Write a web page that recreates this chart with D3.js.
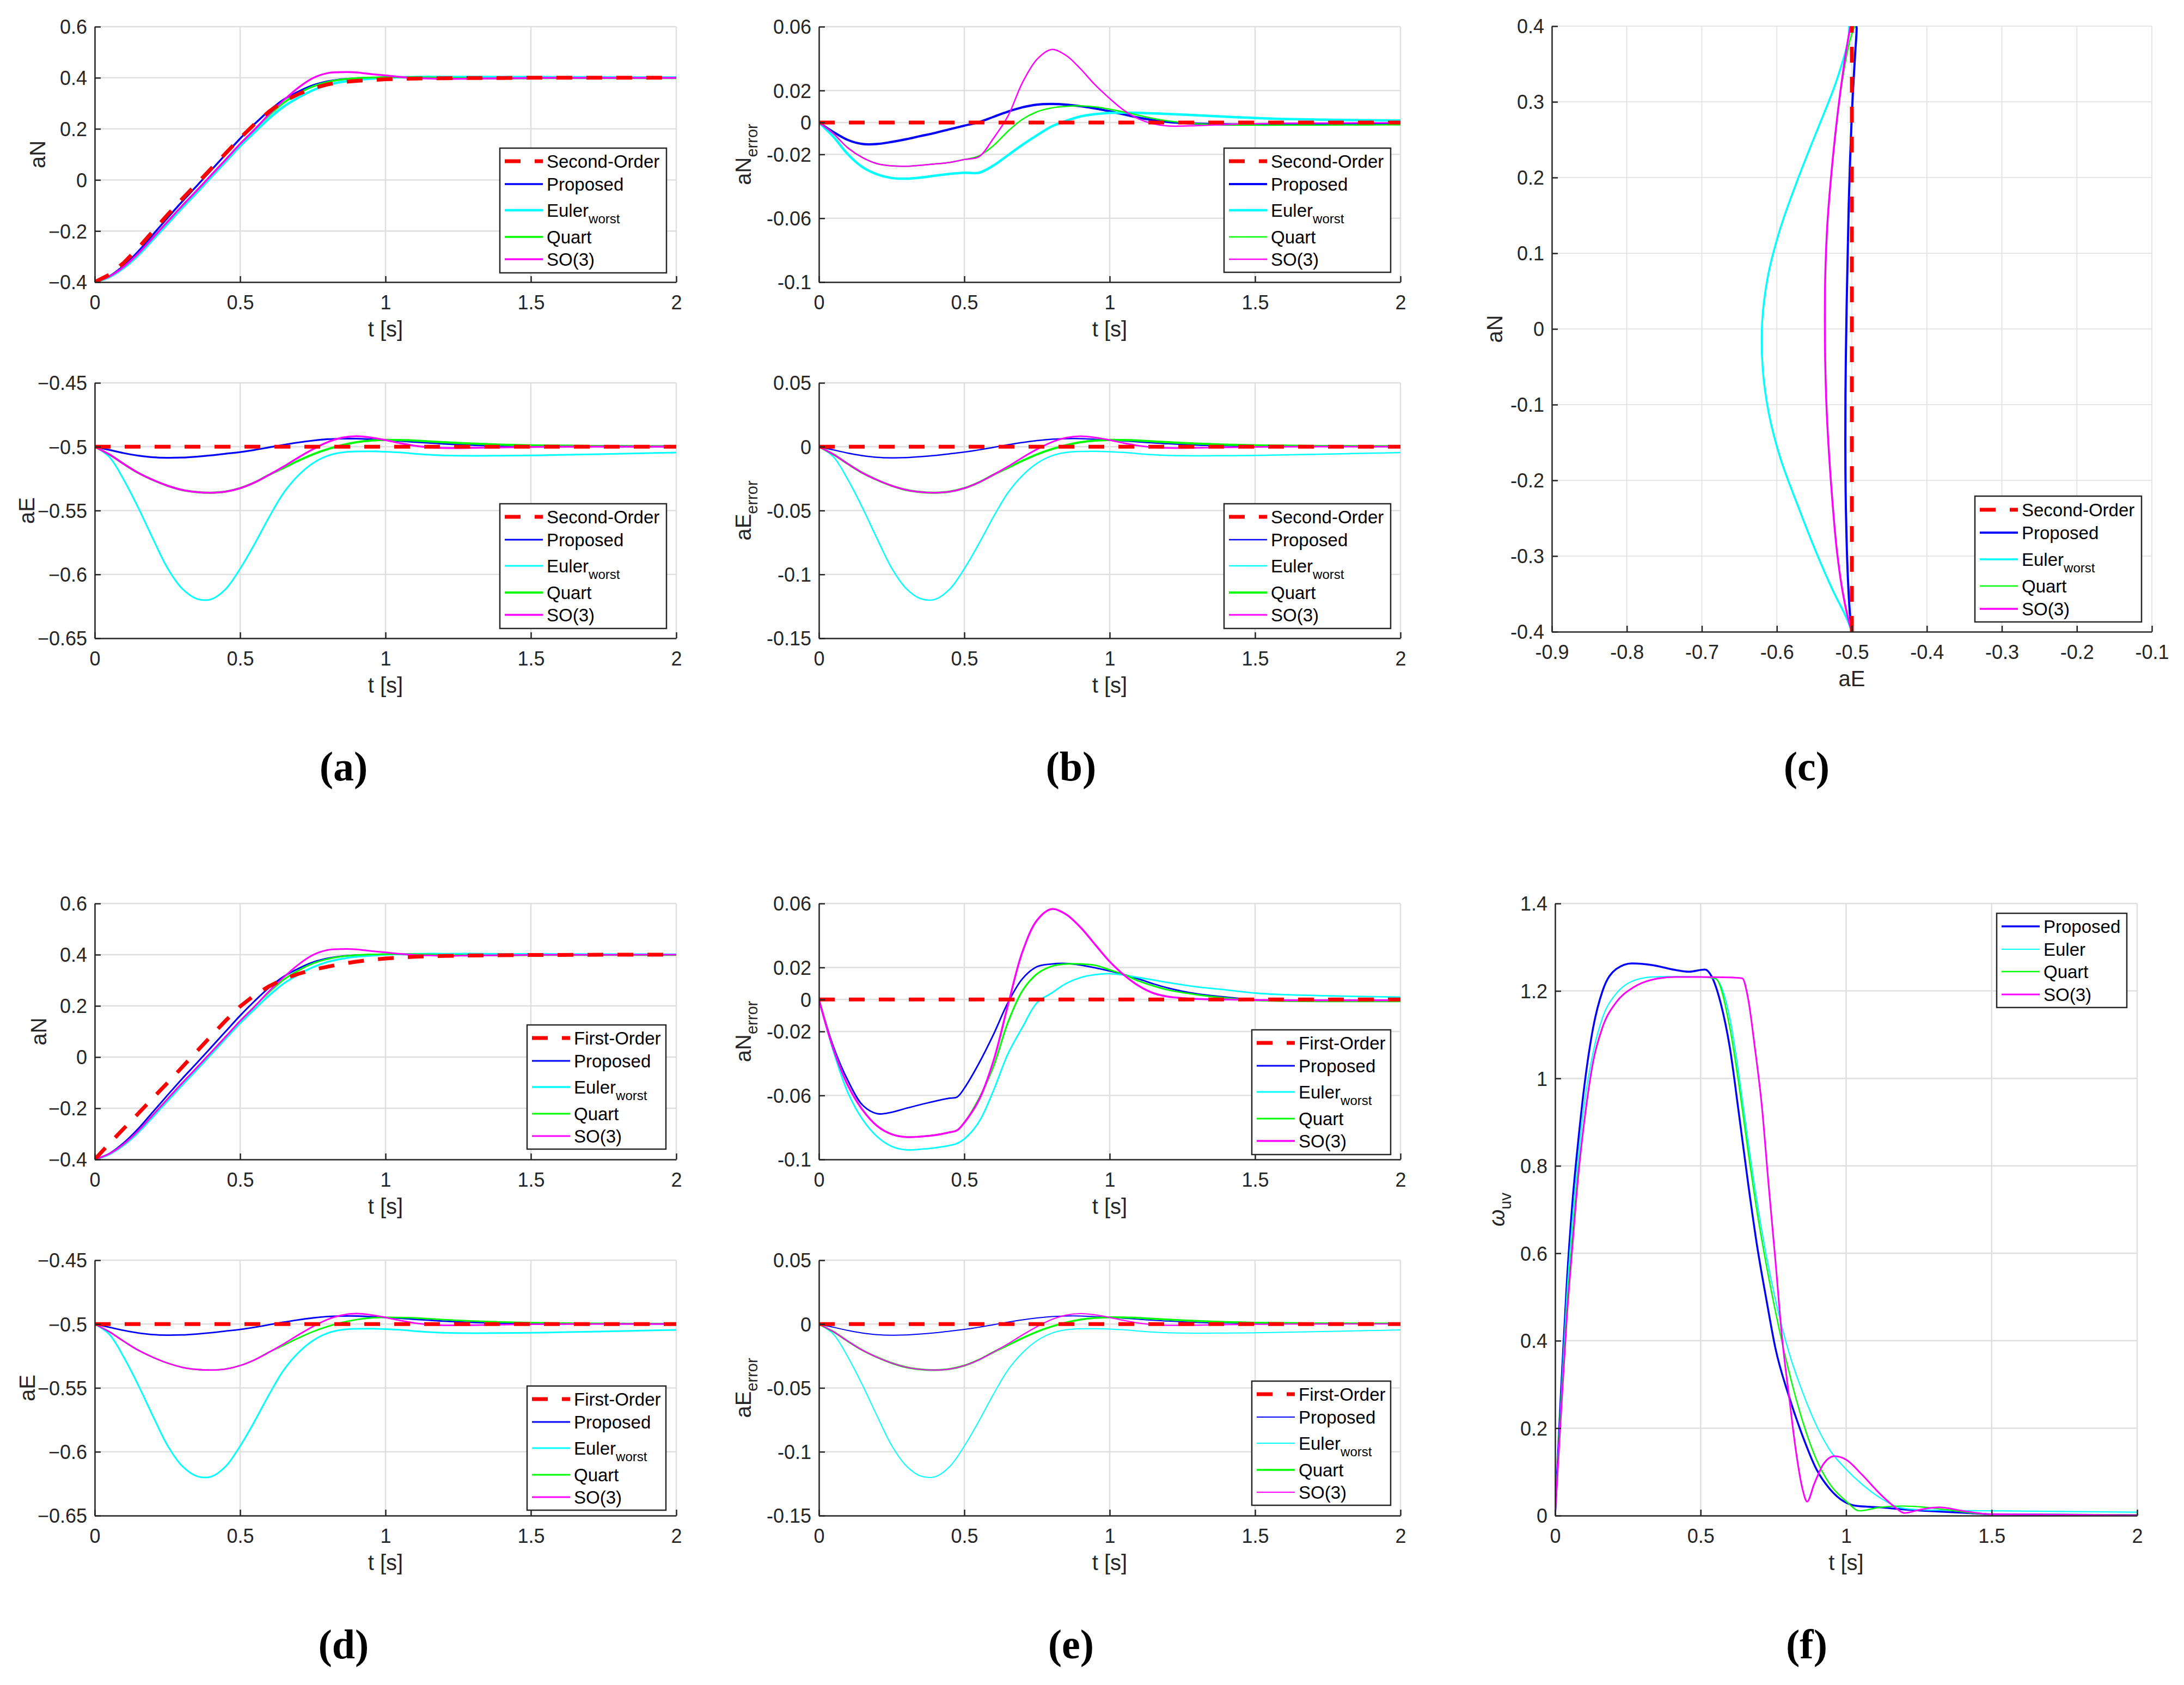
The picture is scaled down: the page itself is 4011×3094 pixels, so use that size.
<!DOCTYPE html>
<html><head><meta charset="utf-8">
<script src="https://cdn.jsdelivr.net/npm/d3@7"></script>
<style>html,body{margin:0;padding:0;background:#fff;} svg{display:block;}</style>
</head><body>
<svg id="chart" width="4011" height="3094"></svg>
<script>
// ---------------- DATA ----------------
const T = [0,0.05,0.1,0.15,0.2,0.25,0.3,0.35,0.4,0.45,0.5,0.55,0.6,0.65,0.7,0.75,0.8,0.85,0.9,0.95,1.0,1.05,1.1,1.15,1.2,1.3,1.4,1.5,1.6,1.8,2.0];
const T_ENDS = [0, 2];

// aN (panels a, c, d)
const aN_second   = [-0.4,-0.371,-0.324,-0.266,-0.201,-0.137,-0.075,-0.016,0.044,0.104,0.164,0.219,0.268,0.308,0.336,0.359,0.374,0.383,0.388,0.391,0.394,0.396,0.397,0.398,0.398,0.399,0.399,0.4,0.4,0.4,0.4];
const aN_first    = [-0.4,-0.338,-0.279,-0.22,-0.16,-0.101,-0.04,0.021,0.082,0.142,0.198,0.242,0.277,0.305,0.325,0.341,0.353,0.364,0.373,0.38,0.385,0.389,0.392,0.394,0.395,0.397,0.398,0.399,0.399,0.4,0.4];
const aN_proposed = [-0.4,-0.377,-0.335,-0.2795,-0.2145,-0.1492,-0.0855,-0.0245,0.0375,0.0998,0.162,0.2192,0.2715,0.3148,0.3455,0.3702,0.3856,0.3942,0.3982,0.3998,0.401,0.401,0.400,0.3995,0.3983,0.3982,0.3978,0.3987,0.3988,0.399,0.3992];
const aN_euler    = [-0.4,-0.38,-0.344,-0.294,-0.2335,-0.1718,-0.1102,-0.0505,0.0107,0.0718,0.1325,0.1875,0.241,0.2875,0.322,0.351,0.3715,0.384,0.3918,0.3962,0.4,0.4022,0.403,0.4037,0.4033,0.4035,0.4026,0.4028,0.4022,0.4016,0.4012];
const aN_quart    = [-0.4,-0.378,-0.34,-0.288,-0.2268,-0.1642,-0.1024,-0.0428,0.018,0.079,0.1408,0.198,0.2535,0.3025,0.338,0.3657,0.3831,0.3931,0.3984,0.4008,0.4023,0.4025,0.4015,0.4005,0.399,0.3982,0.3975,0.3983,0.3983,0.3984,0.3985];
const aN_so3      = [-0.4,-0.378,-0.34,-0.288,-0.2268,-0.1642,-0.1024,-0.0428,0.018,0.079,0.1408,0.1975,0.258,0.312,0.361,0.3986,0.418,0.422,0.421,0.4145,0.409,0.4035,0.3992,0.3972,0.3958,0.397,0.3978,0.3992,0.3995,0.3997,0.3998];

// aE (panels a, c, d)
const aE_ref      = [-0.5, -0.5];
const aE_proposed = [-0.5,-0.5025,-0.505,-0.507,-0.5083,-0.5087,-0.5085,-0.5078,-0.5068,-0.5055,-0.5042,-0.5025,-0.5005,-0.4985,-0.4967,-0.4952,-0.4941,-0.4937,-0.4937,-0.4942,-0.4948,-0.4955,-0.4963,-0.497,-0.4977,-0.4987,-0.4992,-0.4995,-0.4997,-0.4998,-0.4999];
const aE_euler    = [-0.5,-0.508,-0.526,-0.548,-0.572,-0.595,-0.611,-0.619,-0.6195,-0.6115,-0.5955,-0.576,-0.555,-0.536,-0.5225,-0.513,-0.5072,-0.5045,-0.5037,-0.5036,-0.5039,-0.5045,-0.5055,-0.5063,-0.5068,-0.5071,-0.507,-0.5068,-0.5064,-0.5055,-0.5046];
const aE_quart    = [-0.5,-0.506,-0.5135,-0.5205,-0.526,-0.5305,-0.5338,-0.5355,-0.536,-0.5352,-0.5325,-0.528,-0.522,-0.5165,-0.511,-0.506,-0.502,-0.4988,-0.4965,-0.4952,-0.4947,-0.4948,-0.4952,-0.4958,-0.4965,-0.4976,-0.4984,-0.4989,-0.4992,-0.4995,-0.4996];
const aE_so3      = [-0.5,-0.506,-0.5135,-0.5205,-0.526,-0.5305,-0.5338,-0.5355,-0.536,-0.5352,-0.5325,-0.528,-0.522,-0.5155,-0.5085,-0.502,-0.4965,-0.493,-0.4918,-0.4928,-0.4948,-0.4972,-0.4992,-0.5004,-0.501,-0.5009,-0.5005,-0.5002,-0.5,-0.4999,-0.4999];

// panel c reference line
const c_refE = [-0.5, -0.5];
const c_refN = [-0.4, 0.4];

// aN error vs second order (panel b top)
const err_ref       = [0, 0];
const eN2_proposed  = [0,-0.006,-0.011,-0.0135,-0.0135,-0.0122,-0.0105,-0.0085,-0.0065,-0.0042,-0.002,0.0002,0.0035,0.0068,0.0095,0.0112,0.0116,0.0112,0.0102,0.0088,0.007,0.005,0.003,0.0015,0.0003,-0.0008,-0.0012,-0.0013,-0.0012,-0.001,-0.0008];
const eN2_euler     = [0,-0.009,-0.02,-0.028,-0.0325,-0.0348,-0.0352,-0.0345,-0.0333,-0.0322,-0.0315,-0.0315,-0.027,-0.0205,-0.014,-0.008,-0.0025,0.001,0.0038,0.0052,0.006,0.0062,0.006,0.0057,0.0053,0.0045,0.0036,0.0028,0.0022,0.0016,0.0012];
const eN2_quart     = [0,-0.007,-0.016,-0.022,-0.0258,-0.0272,-0.0274,-0.0268,-0.026,-0.025,-0.0232,-0.021,-0.0145,-0.0055,0.002,0.0067,0.0091,0.0101,0.0104,0.0098,0.0083,0.0065,0.0045,0.0025,0.001,-0.0008,-0.0015,-0.0017,-0.0017,-0.0016,-0.0015];
const eN2_so3       = [0,-0.007,-0.016,-0.022,-0.0258,-0.0272,-0.0274,-0.0268,-0.026,-0.025,-0.0232,-0.0215,-0.010,0.004,0.025,0.0396,0.0457,0.042,0.0335,0.0235,0.015,0.0075,0.0022,-0.0008,-0.0022,-0.002,-0.0012,-0.0008,-0.0005,-0.0003,-0.0002];

// aE error (panels b bottom, e bottom)
const eE_proposed = [0,-0.0025,-0.005,-0.007,-0.0083,-0.0087,-0.0085,-0.0078,-0.0068,-0.0055,-0.0042,-0.0025,-0.0005,0.0015,0.0033,0.0048,0.0059,0.0063,0.0063,0.0058,0.0052,0.0045,0.0037,0.003,0.0023,0.0013,0.0008,0.0005,0.0003,0.0002,0.0001];
const eE_euler    = [0,-0.008,-0.026,-0.048,-0.072,-0.095,-0.111,-0.119,-0.1195,-0.1115,-0.0955,-0.076,-0.055,-0.036,-0.0225,-0.013,-0.0072,-0.0045,-0.0037,-0.0036,-0.0039,-0.0045,-0.0055,-0.0063,-0.0068,-0.0071,-0.007,-0.0068,-0.0064,-0.0055,-0.0046];
const eE_quart    = [0,-0.006,-0.0135,-0.0205,-0.026,-0.0305,-0.0338,-0.0355,-0.036,-0.0352,-0.0325,-0.028,-0.022,-0.0165,-0.011,-0.006,-0.002,0.0012,0.0035,0.0048,0.0053,0.0052,0.0048,0.0042,0.0035,0.0024,0.0016,0.0011,0.0008,0.0005,0.0004];
const eE_so3      = [0,-0.006,-0.0135,-0.0205,-0.026,-0.0305,-0.0338,-0.0355,-0.036,-0.0352,-0.0325,-0.028,-0.022,-0.0155,-0.0085,-0.002,0.0035,0.007,0.0082,0.0072,0.0052,0.0028,0.0008,-0.0004,-0.001,-0.0009,-0.0005,-0.0002,0,0.0001,0.0001];

// aN error vs first order (panel e top)
const TE = [0,0.05,0.1,0.15,0.2,0.25,0.3,0.35,0.4,0.45,0.475,0.5,0.55,0.6,0.65,0.7,0.75,0.8,0.85,0.9,0.95,1.0,1.05,1.1,1.15,1.2,1.3,1.4,1.5,1.6,1.8,2.0];
const eN1_proposed = [0,-0.0295,-0.0508,-0.066,-0.0714,-0.0705,-0.068,-0.0657,-0.0635,-0.0617,-0.061,-0.0555,-0.0400,-0.022,-0.002,0.013,0.0205,0.0222,0.0225,0.0215,0.0198,0.0178,0.0155,0.0128,0.0098,0.0072,0.0035,0.0015,-0.0003,-0.0007,-0.0008,-0.0008];
const eN1_euler    = [0,-0.0325,-0.0584,-0.075,-0.0857,-0.0918,-0.094,-0.0936,-0.0927,-0.0912,-0.09,-0.0872,-0.0766,-0.057,-0.034,-0.0173,-0.002,0.004,0.010,0.0137,0.0155,0.0161,0.0152,0.0137,0.0122,0.0106,0.0079,0.006,0.004,0.003,0.0021,0.0015];
const eN1_quart    = [0,-0.031,-0.0538,-0.069,-0.079,-0.0842,-0.086,-0.0857,-0.0848,-0.083,-0.0818,-0.077,-0.062,-0.042,-0.0143,0.0055,0.016,0.0207,0.0222,0.0222,0.0214,0.0185,0.0155,0.0115,0.0085,0.006,0.003,0.0009,-0.0006,-0.001,-0.0012,-0.0012];
const eN1_so3      = [0,-0.031,-0.0538,-0.069,-0.079,-0.0842,-0.086,-0.0857,-0.0848,-0.083,-0.0818,-0.077,-0.063,-0.0386,-0.0036,0.0298,0.0495,0.0565,0.0532,0.045,0.0343,0.0237,0.0152,0.0085,0.004,0.0018,0.0003,0,-0.0003,-0.0005,-0.0005,-0.0005];

// omega_uv (panel f)
const tf_proposed = [0,0.02,0.04,0.06,0.08,0.1,0.131,0.163,0.21,0.264,0.335,0.413,0.46,0.515,0.538,0.569,0.6,0.632,0.663,0.694,0.726,0.757,0.804,0.85,0.898,0.944,0.991,1.038,1.116,1.195,1.273,1.43,1.5,2.0];
const w_proposed  = [0,0.28,0.53,0.72,0.86,0.98,1.117,1.2,1.25,1.263,1.259,1.248,1.244,1.249,1.233,1.172,1.072,0.917,0.761,0.617,0.494,0.383,0.272,0.183,0.106,0.061,0.033,0.022,0.019,0.0144,0.011,0.0056,0.003,0.001];
const tf_euler    = [0,0.02,0.04,0.06,0.08,0.1,0.131,0.163,0.21,0.264,0.335,0.413,0.5,0.55,0.6,0.632,0.663,0.694,0.726,0.757,0.804,0.85,0.898,0.944,1.0,1.054,1.116,1.195,1.273,1.5,2.0];
const w_euler     = [0,0.26,0.5,0.68,0.82,0.94,1.061,1.139,1.194,1.222,1.232,1.233,1.232,1.228,1.139,1.006,0.856,0.717,0.594,0.494,0.372,0.283,0.206,0.15,0.106,0.072,0.041,0.017,0.013,0.011,0.008];
const tf_quart    = [0,0.02,0.04,0.06,0.08,0.1,0.131,0.163,0.21,0.264,0.335,0.413,0.5,0.55,0.6,0.632,0.663,0.694,0.726,0.757,0.804,0.85,0.898,0.944,1.0,1.046,1.116,1.195,1.273,1.35,1.5,2.0];
const w_quart     = [0,0.25,0.47,0.64,0.79,0.9,1.039,1.117,1.174,1.206,1.226,1.232,1.232,1.229,1.117,0.983,0.833,0.694,0.572,0.467,0.328,0.217,0.128,0.072,0.033,0.011,0.019,0.022,0.019,0.013,0.003,0.002];
const tf_so3      = [0,0.02,0.04,0.06,0.08,0.1,0.131,0.163,0.21,0.264,0.335,0.413,0.5,0.6,0.643,0.663,0.686,0.71,0.733,0.757,0.78,0.804,0.827,0.85,0.866,0.89,0.921,0.96,1.0,1.054,1.116,1.163,1.2,1.257,1.32,1.4,1.5,2.0];
const w_so3       = [0,0.23,0.45,0.62,0.78,0.9,1.039,1.117,1.174,1.206,1.226,1.232,1.232,1.231,1.229,1.183,1.072,0.939,0.761,0.583,0.406,0.272,0.15,0.061,0.032,0.072,0.117,0.136,0.128,0.094,0.05,0.022,0.006,0.014,0.019,0.011,0.003,0.001];

// ticks
const tTicks    = [0, 0.5, 1, 1.5, 2];
const aNTicks   = [-0.4, -0.2, 0, 0.2, 0.4, 0.6];
const aETicks   = [-0.65, -0.6, -0.55, -0.5, -0.45];
const eNTicks   = [-0.1, -0.06, -0.02, 0, 0.02, 0.06];
const eETicks   = [-0.15, -0.1, -0.05, 0, 0.05];
const cXTicks   = [-0.9, -0.8, -0.7, -0.6, -0.5, -0.4, -0.3, -0.2, -0.1];
const cYTicks   = [-0.4, -0.3, -0.2, -0.1, 0, 0.1, 0.2, 0.3, 0.4];
const wTicks    = [0, 0.2, 0.4, 0.6, 0.8, 1, 1.2, 1.4];

// ---------------- DRAWING ----------------
const svg = d3.select('#chart');
svg.append('rect').attr('width',4011).attr('height',3094).attr('fill','#fff');
const FONT = "'Liberation Sans', Arial, Helvetica, sans-serif";
const AXC = '#262626';
const RED = '#ff0000', BLUE = '#0000ff', CYAN = '#00ffff', GREEN = '#00ff00', MAG = '#ff00ff';
const fmtU = d3.format('~g');   // uses true minus sign
const fmtH = d3.formatLocale({decimal:'.', thousands:',', grouping:[3], currency:['',''], minus:'-'}).format('~g');
const DASH = '29,26';
const defs = svg.append('defs');
let clipN = 0;

function panel(cfg){
  const g = svg.append('g');
  const x = d3.scaleLinear().domain(cfg.xd).range([cfg.L, cfg.R]);
  const y = d3.scaleLinear().domain(cfg.yd).range([cfg.B, cfg.T]);
  const gw = cfg.gw || 2.5;
  // grid
  g.append('g').selectAll('line').data(cfg.xt).join('line')
    .attr('x1', d => x(d)).attr('x2', d => x(d)).attr('y1', cfg.T).attr('y2', cfg.B)
    .attr('stroke', '#dfdfdf').attr('stroke-width', gw);
  g.append('g').selectAll('line').data(cfg.yt).join('line')
    .attr('y1', d => y(d)).attr('y2', d => y(d)).attr('x1', cfg.L).attr('x2', cfg.R)
    .attr('stroke', '#dfdfdf').attr('stroke-width', gw);
  // series
  const id = 'clip' + (clipN++);
  defs.append('clipPath').attr('id', id).append('rect')
    .attr('x', cfg.L).attr('y', cfg.T).attr('width', cfg.R - cfg.L).attr('height', cfg.B - cfg.T);
  const lg = g.append('g').attr('clip-path', `url(#${id})`);
  const curve = cfg.curve || d3.curveCatmullRom.alpha(0.5);
  cfg.series.forEach(s => {
    const pts = s.x.map((xv, i) => [xv, s.y[i]]);
    const line = d3.line().x(d => x(d[0])).y(d => y(d[1])).curve(s.dash ? d3.curveLinear : curve);
    lg.append('path').attr('d', line(pts)).attr('fill', 'none')
      .attr('stroke', s.c).attr('stroke-width', s.w)
      .attr('stroke-dasharray', s.dash ? DASH : null)
      .attr('stroke-linejoin', 'round');
  });
  // axes
  const ax = g.append('g').attr('transform', `translate(0,${cfg.B})`)
    .call(d3.axisBottom(x).tickValues(cfg.xt).tickFormat(cfg.xf).tickSizeInner(-11).tickSizeOuter(0).tickPadding(24));
  const ay = g.append('g').attr('transform', `translate(${cfg.L},0)`)
    .call(d3.axisLeft(y).tickValues(cfg.yt).tickFormat(cfg.yf).tickSizeInner(-11).tickSizeOuter(0).tickPadding(14));
  [ax, ay].forEach(a => {
    a.attr('font-size', 36).attr('font-family', FONT).attr('color', AXC);
    a.select('.domain').attr('stroke-width', 2.5);
    a.selectAll('.tick line').attr('stroke-width', 2.5);
  });
  ay.selectAll('.tick text').attr('dy', '0.36em');
  // x label
  g.append('text').attr('x', (cfg.L + cfg.R) / 2).attr('y', cfg.B + 100)
    .attr('text-anchor', 'middle').attr('font-family', FONT).attr('font-size', 40).attr('fill', AXC)
    .text(cfg.xlabel);
  // y label
  const yl = g.append('text')
    .attr('transform', `translate(${cfg.ylx},${(cfg.T + cfg.B) / 2}) rotate(-90)`)
    .attr('text-anchor', 'middle').attr('font-family', FONT).attr('font-size', 40).attr('fill', AXC);
  if (cfg.yitalic) yl.append('tspan').attr('font-style', 'italic').text(cfg.ylabel);
  else yl.append('tspan').text(cfg.ylabel);
  if (cfg.ysub) yl.append('tspan').attr('font-size', 29).attr('dy', 12).text(cfg.ysub);
  // legend
  const lgd = cfg.legend;
  const lgG = g.append('g');
  lgG.append('rect').attr('x', lgd.x).attr('y', lgd.y).attr('width', lgd.w).attr('height', lgd.h)
    .attr('fill', '#fff').attr('stroke', AXC).attr('stroke-width', 2.5);
  lgd.rows.forEach((off, i) => {
    const s = cfg.series[lgd.order[i]];
    const cy = lgd.y + off;
    lgG.append('line').attr('x1', lgd.x + 9).attr('x2', lgd.x + 79).attr('y1', cy).attr('y2', cy)
      .attr('stroke', s.c).attr('stroke-width', s.lw || s.w).attr('stroke-dasharray', s.dash ? DASH : null);
    const tx = lgG.append('text').attr('x', lgd.x + 86).attr('y', cy + 12)
      .attr('font-family', FONT).attr('font-size', 33).attr('fill', '#000');
    tx.append('tspan').text(s.name);
    if (s.sub) tx.append('tspan').attr('font-size', 24).attr('dy', 12).text(s.sub);
  });
}

function label(txt, cx, by){
  svg.append('text').attr('x', cx).attr('y', by).attr('text-anchor', 'middle')
    .attr('font-family', "'Liberation Serif', 'DejaVu Serif', serif").attr('font-weight', 'bold')
    .attr('font-size', 76).attr('fill', '#000').text(txt);
}

const ROWS5 = [24, 66, 114, 163, 204];
const ORD5 = [4, 0, 1, 2, 3];
function S(name, x, y, c, w, opts){ return Object.assign({name, x, y, c, w}, opts || {}); }

// ---- (a) top
panel({L:174, R:1242, T:49, B:518, xd:[0,2], yd:[-0.4,0.6], xt:tTicks, yt:aNTicks, xf:fmtU, yf:fmtU,
  xlabel:'t [s]', ylabel:'aN', ylx:83,
  series:[S('Proposed',T,aN_proposed,BLUE,3.5), S('Euler',T,aN_euler,CYAN,4.5,{sub:'worst'}),
          S('Quart',T,aN_quart,GREEN,3.5), S('SO(3)',T,aN_so3,MAG,3.5),
          S('Second-Order',T,aN_second,RED,7,{dash:true})],
  legend:{x:918, y:272, w:306, h:229, rows:ROWS5, order:ORD5}});
// ---- (a) bottom
panel({L:174, R:1242, T:703, B:1172, xd:[0,2], yd:[-0.65,-0.45], xt:tTicks, yt:aETicks, xf:fmtU, yf:fmtU,
  xlabel:'t [s]', ylabel:'aE', ylx:63,
  series:[S('Proposed',T,aE_proposed,BLUE,3.2), S('Euler',T,aE_euler,CYAN,3,{sub:'worst'}),
          S('Quart',T,aE_quart,GREEN,4), S('SO(3)',T,aE_so3,MAG,3.5),
          S('Second-Order',T_ENDS,aE_ref,RED,7,{dash:true})],
  legend:{x:918, y:925, w:306, h:229, rows:ROWS5, order:ORD5}});
// ---- (b) top
panel({L:1504, R:2572, T:49, B:518, xd:[0,2], yd:[-0.1,0.06], xt:tTicks, yt:eNTicks, xf:fmtH, yf:fmtH,
  xlabel:'t [s]', ylabel:'aN', ysub:'error', ylx:1379,
  series:[S('Proposed',T,eN2_proposed,BLUE,4.2), S('Euler',T,eN2_euler,CYAN,4.5,{sub:'worst'}),
          S('Quart',T,eN2_quart,GREEN,2.5), S('SO(3)',T,eN2_so3,MAG,2.5),
          S('Second-Order',T_ENDS,err_ref,RED,7,{dash:true})],
  legend:{x:2248, y:272, w:306, h:228, rows:ROWS5, order:ORD5}});
// ---- (b) bottom
panel({L:1504, R:2572, T:703, B:1172, xd:[0,2], yd:[-0.15,0.05], xt:tTicks, yt:eETicks, xf:fmtH, yf:fmtH,
  xlabel:'t [s]', ylabel:'aE', ysub:'error', ylx:1379,
  series:[S('Proposed',T,eE_proposed,BLUE,2.5), S('Euler',T,eE_euler,CYAN,2.5,{sub:'worst'}),
          S('Quart',T,eE_quart,GREEN,4), S('SO(3)',T,eE_so3,MAG,3),
          S('Second-Order',T_ENDS,err_ref,RED,7,{dash:true})],
  legend:{x:2248, y:925, w:306, h:229, rows:ROWS5, order:ORD5}});
// ---- (c)
panel({L:2850, R:3952, T:48, B:1160, xd:[-0.9,-0.1], yd:[-0.4,0.4], xt:cXTicks, yt:cYTicks, xf:fmtH, yf:fmtH, gw:1.6,
  xlabel:'aE', ylabel:'aN', ylx:2759,
  series:[S('Proposed',aE_proposed,aN_proposed,BLUE,4), S('Euler',aE_euler,aN_euler,CYAN,3.5,{sub:'worst'}),
          S('Quart',aE_quart,aN_quart,GREEN,2.5), S('SO(3)',aE_so3,aN_so3,MAG,3.5),
          S('Second-Order',c_refE,c_refN,RED,7,{dash:true})],
  legend:{x:3627, y:911, w:306, h:231, rows:[25, 67, 116, 165, 207], order:ORD5}});
// ---- (d) top
panel({L:174, R:1242, T:1659, B:2129, xd:[0,2], yd:[-0.4,0.6], xt:tTicks, yt:aNTicks, xf:fmtU, yf:fmtU,
  xlabel:'t [s]', ylabel:'aN', ylx:85,
  series:[S('Proposed',T,aN_proposed,BLUE,3), S('Euler',T,aN_euler,CYAN,3.5,{sub:'worst'}),
          S('Quart',T,aN_quart,GREEN,3), S('SO(3)',T,aN_so3,MAG,3),
          S('First-Order',T,aN_first,RED,7,{dash:true})],
  legend:{x:968, y:1882, w:255, h:228, rows:ROWS5, order:ORD5}});
// ---- (d) bottom
panel({L:174, R:1242, T:2314, B:2783, xd:[0,2], yd:[-0.65,-0.45], xt:tTicks, yt:aETicks, xf:fmtU, yf:fmtU,
  xlabel:'t [s]', ylabel:'aE', ylx:64,
  series:[S('Proposed',T,aE_proposed,BLUE,2.8), S('Euler',T,aE_euler,CYAN,3,{sub:'worst'}),
          S('Quart',T,aE_quart,GREEN,2.8), S('SO(3)',T,aE_so3,MAG,2.8),
          S('First-Order',T_ENDS,aE_ref,RED,7,{dash:true})],
  legend:{x:968, y:2545, w:255, h:228, rows:ROWS5, order:ORD5}});
// ---- (e) top
panel({L:1504, R:2572, T:1659, B:2129, xd:[0,2], yd:[-0.1,0.06], xt:tTicks, yt:eNTicks, xf:fmtH, yf:fmtH,
  xlabel:'t [s]', ylabel:'aN', ysub:'error', ylx:1379,
  series:[S('Proposed',TE,eN1_proposed,BLUE,2.8), S('Euler',TE,eN1_euler,CYAN,2.8,{sub:'worst'}),
          S('Quart',TE,eN1_quart,GREEN,3), S('SO(3)',TE,eN1_so3,MAG,3.5),
          S('First-Order',T_ENDS,err_ref,RED,7,{dash:true})],
  legend:{x:2299, y:1891, w:255, h:229, rows:ROWS5, order:ORD5}});
// ---- (e) bottom
panel({L:1504, R:2572, T:2314, B:2783, xd:[0,2], yd:[-0.15,0.05], xt:tTicks, yt:eETicks, xf:fmtH, yf:fmtH,
  xlabel:'t [s]', ylabel:'aE', ysub:'error', ylx:1379,
  series:[S('Proposed',T,eE_proposed,BLUE,2), S('Euler',T,eE_euler,CYAN,2,{sub:'worst'}),
          S('Quart',T,eE_quart,GREEN,3.5), S('SO(3)',T,eE_so3,MAG,2.2),
          S('First-Order',T_ENDS,err_ref,RED,7,{dash:true})],
  legend:{x:2299, y:2536, w:255, h:228, rows:ROWS5, order:ORD5}});
// ---- (f)
panel({L:2856, R:3925, T:1659, B:2783, xd:[0,2], yd:[0,1.4], xt:tTicks, yt:wTicks, xf:fmtH, yf:fmtH,
  curve:d3.curveMonotoneX,
  xlabel:'t [s]', ylabel:'ω', yitalic:true, ysub:'uv', ylx:2763,
  series:[S('Proposed',tf_proposed,w_proposed,BLUE,3.5), S('Euler',tf_euler,w_euler,CYAN,2.2),
          S('Quart',tf_quart,w_quart,GREEN,2.4), S('SO(3)',tf_so3,w_so3,MAG,3)],
  legend:{x:3667, y:1677, w:239, h:173, rows:[24, 66, 107, 149], order:[0,1,2,3]}});

label('(a)', 631, 1433);
label('(b)', 1967, 1433);
label('(c)', 3318, 1433);
label('(d)', 631, 3045);
label('(e)', 1967, 3045);
label('(f)', 3318, 3045);
</script>
</body></html>
